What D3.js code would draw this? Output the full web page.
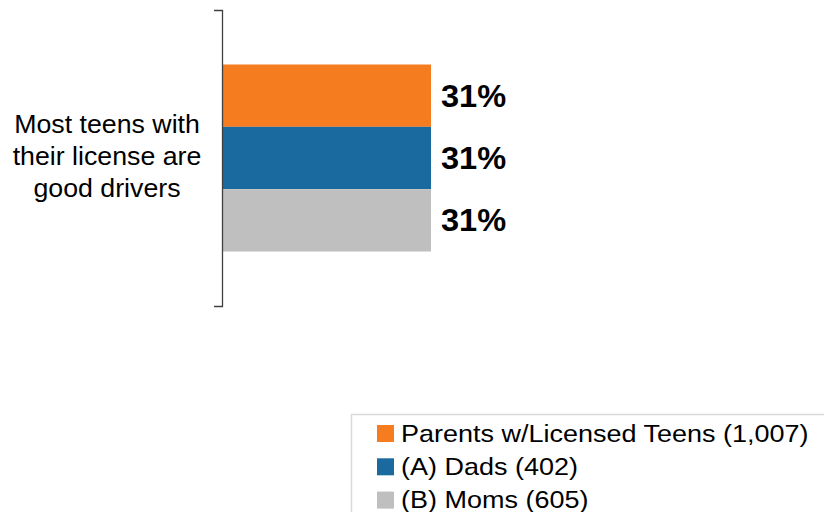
<!DOCTYPE html>
<html>
<head>
<meta charset="utf-8">
<script src="https://cdn.jsdelivr.net/npm/d3@7"></script>
<style>
  html, body { margin: 0; padding: 0; background: #fff; }
  svg { display: block; font-family: "Liberation Sans", Arial, sans-serif; }
</style>
</head>
<body>
<svg id="chart" width="824" height="512"></svg>
<script>
// Question shown on the category axis (one category, wrapped over three lines)
const categories = ["Most teens with their license are good drivers"];
const categoryLines = [["Most teens with", "their license are", "good drivers"]];

// Respondent groups and their share agreeing (%)
const seriesNames = [
  "Parents w/Licensed Teens (1,007)",
  "(A) Dads (402)",
  "(B) Moms (605)"
];
const seriesValues = [31, 31, 31];
const seriesColors = ["#F57D1F", "#1A6AA0", "#BFBFBF"];
const valueLabels = ["31%", "31%", "31%"];

const svg = d3.select("#chart");

const axisX = 222;
const x = d3.scaleLinear().domain([0, 60]).range([axisX, axisX + 209 / 31 * 60]);

const yCat = d3.scaleBand()
  .domain(categories)
  .range([10, 306])
  .paddingInner(0)
  .paddingOuter(0.2914);

const ySeries = d3.scaleBand()
  .domain(seriesNames)
  .range([0, yCat.bandwidth()])
  .padding(0);

const rows = seriesNames.map((name, i) => ({
  cat: categories[0],
  name,
  value: seriesValues[i],
  color: seriesColors[i],
  label: valueLabels[i]
}));

// Bars
svg.append("g")
  .selectAll("rect")
  .data(rows)
  .join("rect")
  .attr("x", x(0))
  .attr("y", d => yCat(d.cat) + ySeries(d.name))
  .attr("width", d => x(d.value) - x(0))
  .attr("height", ySeries.bandwidth())
  .attr("fill", d => d.color);

// Value labels to the right of each bar (type is slightly wide)
svg.append("g")
  .selectAll("text")
  .data(rows)
  .join("text")
  .attr("transform", d =>
    `translate(${x(d.value) + 10},${yCat(d.cat) + ySeries(d.name) + ySeries.bandwidth() / 2 + 11}) scale(1.05,1)`)
  .attr("font-size", 31)
  .attr("font-weight", "bold")
  .attr("fill", "#000")
  .text(d => d.label);

// Category axis: vertical line with outer ticks only
const yAxis = d3.axisLeft(yCat).tickSizeInner(0).tickSizeOuter(8).tickFormat("");
const axisG = svg.append("g")
  .attr("transform", `translate(${axisX},0)`)
  .call(yAxis);
axisG.select(".domain").attr("stroke", "#404040").attr("stroke-width", 1.3);
axisG.selectAll(".tick").remove();

// Wrapped category label
const lab = svg.append("text")
  .attr("transform", "translate(107,0) scale(1.07,1)")
  .attr("text-anchor", "middle")
  .attr("font-size", 25)
  .attr("fill", "#000");
categoryLines[0].forEach((line, i) => {
  lab.append("tspan")
    .attr("x", 0)
    .attr("y", yCat(categories[0]) + yCat.bandwidth() / 2 - 25 + i * 32)
    .text(line);
});

// Legend
const legend = svg.append("g");
legend.append("rect")
  .attr("x", 351.5).attr("y", 414.5)
  .attr("width", 520).attr("height", 140)
  .attr("fill", "#fff")
  .attr("stroke", "#D9D9D9")
  .attr("stroke-width", 1.5);

const legendItems = legend.selectAll("g.item")
  .data(rows)
  .join("g")
  .attr("class", "item")
  .attr("transform", (d, i) => `translate(377,${425 + i * 33.3})`);

legendItems.append("rect")
  .attr("width", 17).attr("height", 17)
  .attr("fill", d => d.color);

legendItems.append("text")
  .attr("transform", "translate(24,16.5) scale(1.125,1)")
  .attr("font-size", 24)
  .attr("fill", "#000")
  .text(d => d.name);
</script>
</body>
</html>
